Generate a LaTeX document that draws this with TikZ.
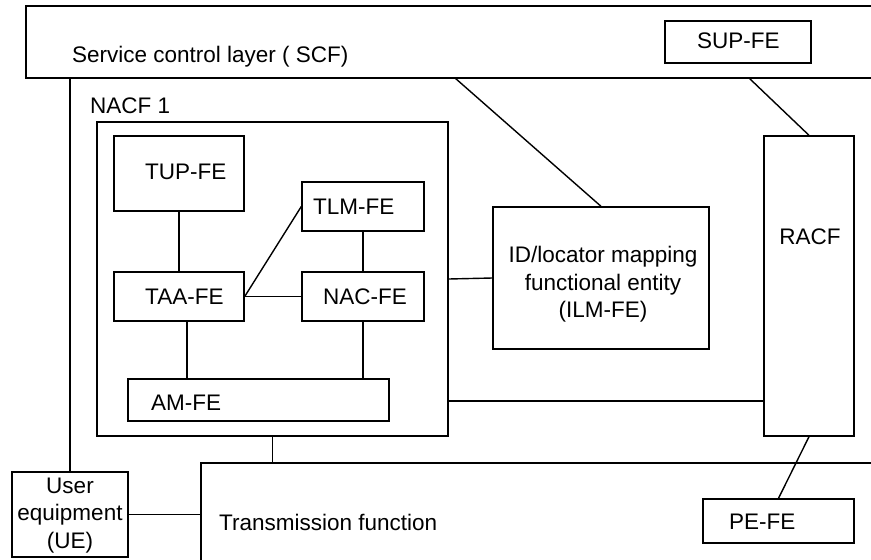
\documentclass[tikz,border=0pt]{standalone}
\usepackage{fontspec}
\setmainfont{Liberation Sans}
\begin{document}
\begin{tikzpicture}[x=1pt,y=-1pt,
  box/.style={draw=black,line width=1.4pt,rectangle,inner sep=0pt},
  txt/.style={inner sep=0pt,font=\fontsize{22.5}{27.5}\selectfont},
  conn/.style={draw=black,line width=1.4pt}]
\useasboundingbox (0,0) rectangle (871,560);
% layers (open to the right / bottom, cropped by the page)
\node[box,minimum width=874pt,minimum height=72pt] (scf) at (463,42) {};
\node[box,minimum width=700pt,minimum height=120pt] (trans) at (551,523) {};
% boxes
\node[box,minimum width=146pt,minimum height=42pt] (sup) at (738,42) {};
\node[box,minimum width=351pt,minimum height=314pt] (nacf) at (272.5,279) {};
\node[box,minimum width=130pt,minimum height=75pt] (tup) at (179,173.5) {};
\node[box,minimum width=122pt,minimum height=49pt] (tlm) at (363,206.5) {};
\node[box,minimum width=130pt,minimum height=49pt] (taa) at (179,296.5) {};
\node[box,minimum width=122pt,minimum height=49pt] (nac) at (363,296.5) {};
\node[box,minimum width=261pt,minimum height=42pt] (am) at (258.5,400) {};
\node[box,minimum width=216pt,minimum height=142pt] (ilm) at (601,278) {};
\node[box,minimum width=90pt,minimum height=300pt] (racf) at (809,286) {};
\node[box,minimum width=151pt,minimum height=44pt] (pe) at (778.5,521) {};
\node[box,minimum width=116pt,minimum height=85pt] (ue) at (70,514.5) {};
% texts
\node[txt,anchor=base west] (tscf) at (72,62) {Service control layer ( SCF)};
\node[txt,anchor=base west] (tsup) at (697,48) {SUP-FE};
\node[txt,anchor=base west] (tnacf) at (90,113) {NACF 1};
\node[txt,anchor=base west] (ttup) at (145,179) {TUP-FE};
\node[txt,anchor=base west] (ttlm) at (313,214) {TLM-FE};
\node[txt,anchor=base west] (ttaa) at (145,304) {TAA-FE};
\node[txt,anchor=base west] (tnac) at (323,304) {NAC-FE};
\node[txt,anchor=base west] (tam) at (151,410) {AM-FE};
\node[txt,anchor=base] (tilm1) at (603,262) {ID/locator mapping};
\node[txt,anchor=base] (tilm2) at (603,290) {functional entity};
\node[txt,anchor=base] (tilm3) at (603,317) {(ILM-FE)};
\node[txt,anchor=base] (tracf) at (810,244) {RACF};
\node[txt,anchor=base west] (tpe) at (729,529) {PE-FE};
\node[txt,anchor=base west] (ttrans) at (219,530) {Transmission function};
\node[txt,anchor=base] (tue1) at (70,493) {User};
\node[txt,anchor=base] (tue2) at (70,520) {equipment};
\node[txt,anchor=base] (tue3) at (70,548) {(UE)};
% free ends on the service control layer
\coordinate (s1) at (455,78);
\coordinate (s2) at (749,78);
\coordinate (n1) at (448,401);
% connectors
\draw[conn] (ue.north) -- (ue.north |- scf.south);
\draw[conn] (s1) -- (ilm.north);
\draw[conn] (s2) -- (racf.north);
\draw[conn] (racf.south) -- (pe.north);
\draw[conn] (nacf.south) -- (nacf.south |- trans.north);
\draw[conn] (nacf.east) -- (ilm.west);
\draw[conn] (n1) -- (n1 -| racf.west);
\draw[conn] (ue.east) -- (ue.east -| trans.west);
\draw[conn] (tup.south) -- (taa.north);
\draw[conn] (tlm.south) -- (nac.north);
\draw[conn] (taa.east) -- (nac.west);
\draw[conn] (taa.east) -- (tlm.west);
\draw[conn] ([xshift=8pt]taa.south) -- ([xshift=8pt]taa.south |- am.north);
\draw[conn] (nac.south) -- (nac.south |- am.north);
\end{tikzpicture}
\end{document}
